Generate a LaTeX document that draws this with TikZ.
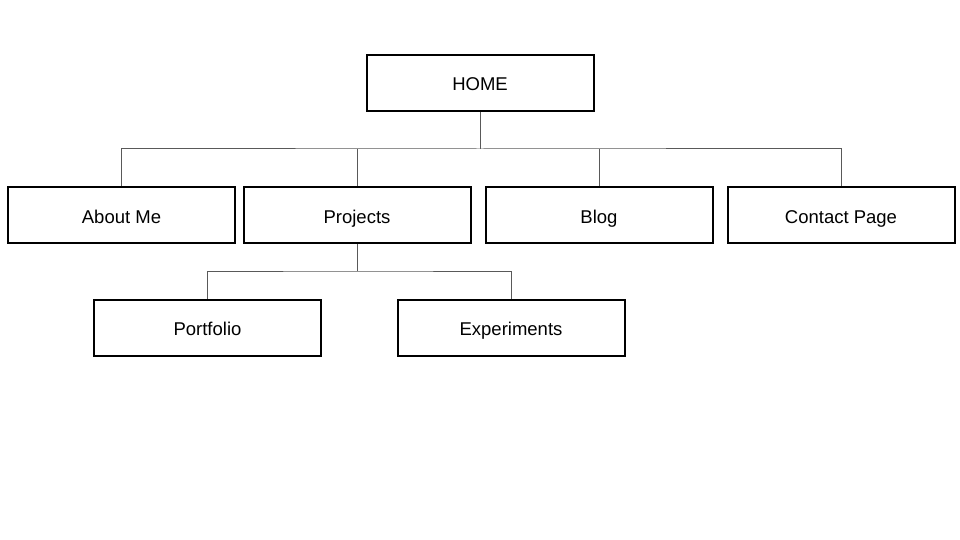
\documentclass[tikz,border=0pt]{standalone}
\usepackage{fontspec}
\setmainfont{Liberation Sans}
\begin{document}
\begin{tikzpicture}[x=1pt,y=-1pt,
  pagebox/.style={draw=black,line width=2pt,minimum width=227pt,minimum height=56pt,inner sep=0pt,text height=17pt,text depth=1pt,font=\fontsize{18.5}{20}\selectfont},
  link/.style={draw=black!65,line width=1pt}]
\useasboundingbox[fill=white] (0,0) rectangle (960,540);
\node[pagebox] (home) at (480,83) {HOME};
\node[pagebox] (about) at (121.5,215) {About Me};
\node[pagebox] (proj) at (357,215) {Projects};
\node[pagebox] (blog) at (599,215) {Blog};
\node[pagebox] (contact) at (841,215) {Contact Page};
\node[pagebox] (port) at (207.5,327.5) {Portfolio};
\node[pagebox] (exp) at (511,327.5) {Experiments};
\coordinate (hb) at (480,149);
\coordinate (pb) at (357,271);
\draw[link] (home.south) -- (hb);
\draw[link] (about.north) |- (hb) -| (contact.north);
\draw[link] (proj.north) -- (proj.north |- hb);
\draw[link] (blog.north) -- (blog.north |- hb);
\draw[link] (proj.south) -- (pb);
\draw[link] (port.north) |- (pb) -| (exp.north);
\end{tikzpicture}
\end{document}
